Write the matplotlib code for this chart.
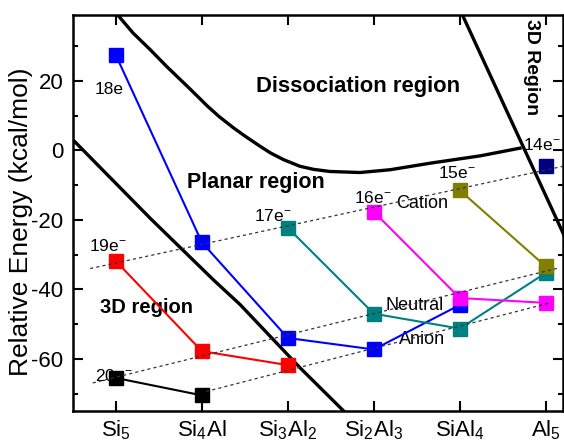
import numpy as np
import matplotlib
matplotlib.use("Agg")
import matplotlib.pyplot as plt
from matplotlib.ticker import MultipleLocator

plt.rcParams['font.family'] = ['Liberation Sans', 'DejaVu Sans']
plt.rcParams['mathtext.fontset'] = 'custom'
plt.rcParams['mathtext.rm'] = 'Liberation Sans'
plt.rcParams['mathtext.it'] = 'Liberation Sans:italic'
plt.rcParams['mathtext.bf'] = 'Liberation Sans:bold'
plt.rcParams['axes.unicode_minus'] = False

clusters = ["Si$_5$", "Si$_4$Al", "Si$_3$Al$_2$", "Si$_2$Al$_3$", "SiAl$_4$", "Al$_5$"]

# isoelectronic series: energies and index of the first cluster
e20 = [-65.5, -70.5]
e19 = [-31.9, -57.8, -61.8]
e18 = [27.3, -26.5, -54.0, -57.3, -44.5]
e17 = [-22.3, -47.0, -51.3, -35.3]
e16 = [-17.7, -42.5, -43.9]
e15 = [-11.5, -33.4]
e14 = [-4.4]
starts = [0, 0, 0, 2, 3, 4, 5]
names = ["20e$^{-}$", "19e$^{-}$", "18e", "17e$^{-}$", "16e$^{-}$", "15e$^{-}$", "14e$^{-}$"]
colors = ["black", "#ff0000", "#0000ff", "#008080", "#ff00ff", "#808000", "#000080"]

# region boundaries
diss_x = [0.0, 0.2, 0.4, 0.59, 0.83, 0.95, 1.06, 1.2, 1.37, 1.5, 1.68, 1.8, 1.95,
          2.14, 2.3, 2.49, 2.84, 3.19, 3.66, 4.24, 4.72]
diss_y = [39.5, 33.7, 28.9, 24.1, 18.4, 15.5, 12.8, 9.7, 6.4, 4.1, 1.1, -0.8, -2.7,
          -4.6, -5.5, -6.1, -6.4, -5.6, -3.7, -1.6, 0.7]
left_x = [-0.5, 0.4, 1.135, 1.445, 2.143, 2.67]
left_y = [3.0, -19.6, -37.3, -44.4, -62.6, -75.5]
right_x = [4.03, 5.25]
right_y = [39.0, -26.4]

series = [e20, e19, e18, e17, e16, e15, e14]

fig = plt.figure(figsize=(5.64, 4.45), dpi=100)
ax = fig.add_axes([0.1294, 0.0764, 0.8686, 0.8906])

# region boundaries
for bx, by in [(diss_x, diss_y), (left_x, left_y), (right_x, right_y)]:
    ax.plot(bx, by, color='black', lw=2.4, zorder=2, solid_capstyle='butt',
            solid_joinstyle='round')

for s, st, c in zip(series, starts, colors):
    xs = np.arange(st, st + len(s))
    ax.plot(xs, s, color=c, lw=1.5, marker='s', ms=9.5, mec=c, mfc=c, zorder=4)

# cation / neutral / anion guide lines (straight fits through the points)
cation = [(0, e19[0]), (1, e18[1]), (2, e17[0]), (3, e16[0]), (4, e15[0]), (5, e14[0])]
neutral = [(0, e20[0]), (1, e19[1]), (2, e18[2]), (3, e17[1]), (4, e16[1]), (5, e15[1])]
anion = [(1, e20[1]), (2, e19[2]), (3, e18[3]), (4, e17[2]), (5, e16[2])]
for grp, x0, x1 in [(cation, -0.3, 5.25), (neutral, -0.27, 5.13), (anion, 1.05, 5.07)]:
    gx, gy = zip(*grp)
    k, b = np.polyfit(gx, gy, 1)
    xx = np.array([x0, x1])
    ax.plot(xx, k * xx + b, color='#333333', lw=0.9, ls=(0, (2.5, 2.5)), zorder=5)

# electron count labels
lab_pos = [(-0.24, -65.0, 'left'), (-0.095, -27.4, 'center'), (-0.078, 17.4, 'center'),
           (1.82, -19.0, 'center'), (2.99, -13.7, 'center'), (3.97, -6.5, 'center'),
           (4.95, 1.6, 'center')]
for n, (lx, ly, ha) in zip(names, lab_pos):
    ax.text(lx, ly, n, fontsize=12.5, ha=ha, va='center', zorder=3)

ax.text(3.56, -15.2, "Cation", fontsize=13, ha='center', va='center', zorder=3)
ax.text(3.47, -44.7, "Neutral", fontsize=13, ha='center', va='center', zorder=3)
ax.text(3.56, -54.4, "Anion", fontsize=13, ha='center', va='center', zorder=3)

ax.text(2.82, 18.3, "Dissociation region", fontsize=15.8, fontweight='bold', ha='center', va='center')
ax.text(1.625, -9.3, "Planar region", fontsize=15.5, fontweight='bold', ha='center', va='center')
ax.text(0.358, -45.2, "3D region", fontsize=14.5, fontweight='bold', ha='center', va='center')
ax.text(4.83, 24.0, "3D Region", fontsize=14, fontweight='bold', ha='center', va='center',
        rotation=-90)

ax.set_xlim(-0.5, 5.2)
ax.set_ylim(-75, 39)
ax.set_xticks(range(6))
ax.set_xticklabels(clusters)
ax.set_yticks([-60, -40, -20, 0, 20])
ax.yaxis.set_minor_locator(MultipleLocator(10))

ax.tick_params(which='both', direction='in', top=True, right=True, labelsize=16, width=1.5)
ax.tick_params(which='major', length=7)
ax.tick_params(which='minor', length=3.6)
ax.tick_params(axis='y', pad=7)
ax.tick_params(axis='x', pad=5)
for sp in ax.spines.values():
    sp.set_linewidth(1.8)

ax.set_ylabel("Relative Energy (kcal/mol)", fontsize=19)
ax.yaxis.set_label_coords(-0.082, 0.478)

fig.savefig("out.png", dpi=100)
